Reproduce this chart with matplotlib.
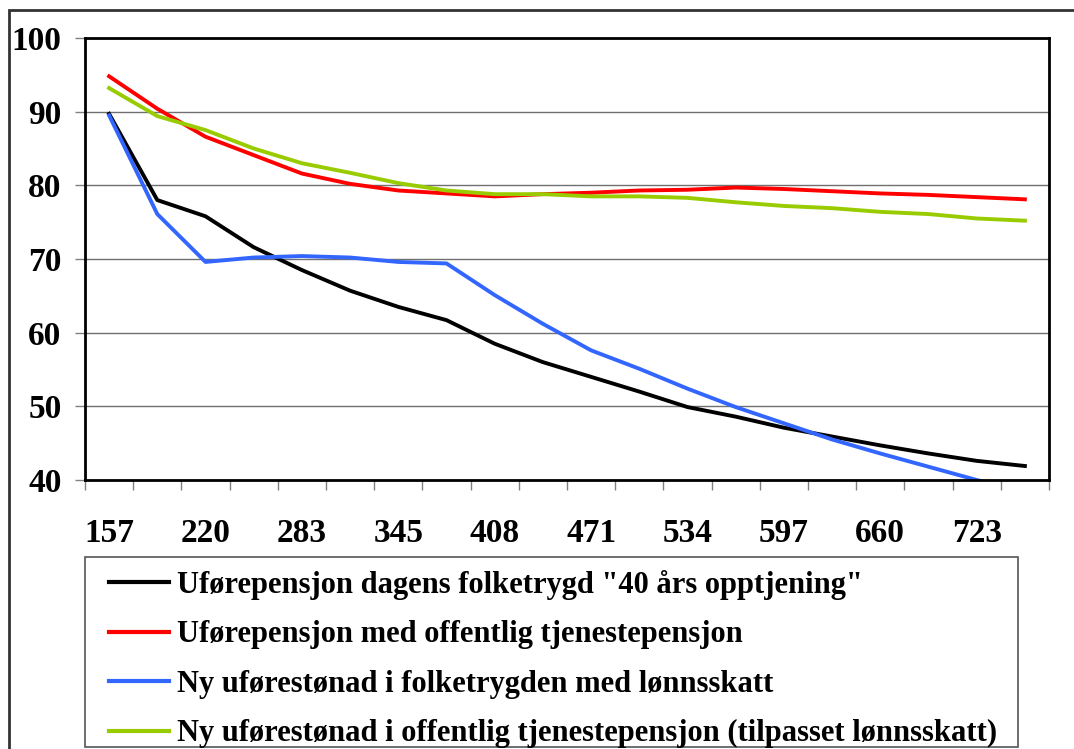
import matplotlib.pyplot as plt
from matplotlib.patches import Rectangle

# inntekt (1000 kr) og kompensasjonsgrad (%)
inntekt = [157, 188, 220, 251, 283, 314, 345, 377, 408, 440,
           471, 502, 534, 565, 597, 628, 660, 691, 723, 754]

dagens_ft = [89.7, 78.0, 75.8, 71.6, 68.5, 65.7, 63.5, 61.7, 58.5, 56.0,
             54.0, 52.0, 49.9, 48.6, 47.1, 45.9, 44.7, 43.6, 42.6, 41.9]
offentlig_tp = [94.8, 90.4, 86.6, 84.1, 81.6, 80.2, 79.3, 78.9, 78.5, 78.8,
                79.0, 79.3, 79.4, 79.7, 79.5, 79.2, 78.9, 78.7, 78.4, 78.1]
ny_ft = [89.5, 76.1, 69.6, 70.2, 70.4, 70.2, 69.6, 69.4, 65.1, 61.2,
         57.6, 55.1, 52.4, 49.9, 47.7, 45.5, 43.6, 41.8, 40.0, 38.4]
ny_tp = [93.2, 89.4, 87.5, 85.0, 83.0, 81.7, 80.3, 79.3, 78.8, 78.8,
         78.5, 78.5, 78.3, 77.7, 77.2, 76.9, 76.4, 76.1, 75.5, 75.2]

etiketter = ['Uførepensjon dagens folketrygd "40 års opptjening"',
             'Uførepensjon med offentlig tjenestepensjon',
             'Ny uførestønad i folketrygden med lønnsskatt',
             'Ny uførestønad i offentlig tjenestepensjon (tilpasset lønnsskatt)']
farger = ['#000000', '#FF0000', '#3366FF', '#99CC00']

plt.rcParams['font.family'] = ['Liberation Serif', 'DejaVu Serif']
plt.rcParams['font.weight'] = 'bold'

fig = plt.figure(figsize=(10.74, 7.49), dpi=100)
ax = fig.add_axes([85/1074, 1-480/749, (1049-85)/1074, (480-38)/749])

x = list(range(len(inntekt)))
for serie, navn, farge in zip([dagens_ft, offentlig_tp, ny_ft, ny_tp], etiketter, farger):
    ax.plot(x, serie, color=farge, lw=2.8, label=navn, solid_joinstyle='round')

ax.set_xlim(-0.5, len(inntekt) - 0.5)
ax.set_ylim(40, 100)
ax.set_yticks(range(40, 101, 10))
ax.yaxis.grid(True, color='#707070', lw=1)
ax.set_axisbelow(True)

# tick marks between categories, labels on every other category
ax.set_xticks([i - 0.5 for i in range(len(inntekt) + 1)])
ax.set_xticklabels([])
ax.set_xticks(x[::2], minor=True)
ax.set_xticklabels([str(v) for v in inntekt[::2]], minor=True)
ax.tick_params(axis='x', which='major', length=7, width=1, color='#808080', direction='out')
ax.tick_params(axis='x', which='minor', length=0, pad=27, labelsize=24)
ax.tick_params(axis='y', length=7, width=1, color='#808080', pad=10, labelsize=24)
for s in ax.spines.values():
    s.set_linewidth(2)
    s.set_color('black')

# legend box drawn separately so the entries can be placed freely
fig.patches.append(Rectangle((85/1074, 2/749), (1018-85)/1074, 190/749, transform=fig.transFigure,
                             fill=False, edgecolor='#555555', lw=1.2))
leg = fig.legend(loc='upper left', bbox_to_anchor=(109/1074, 1-570/749),
                 frameon=False, fontsize=22, handlelength=1.95,
                 handletextpad=0.26, labelspacing=0.67, borderpad=0, borderaxespad=0)
for l in leg.get_lines():
    l.set_linewidth(3)

# outer chart border
fig.patches.append(Rectangle((9/1074, -0.1), 1.1, 1-10/749 + 0.1, transform=fig.transFigure,
                             fill=False, edgecolor='#333333', lw=2))

fig.savefig('out.png', dpi=100)
